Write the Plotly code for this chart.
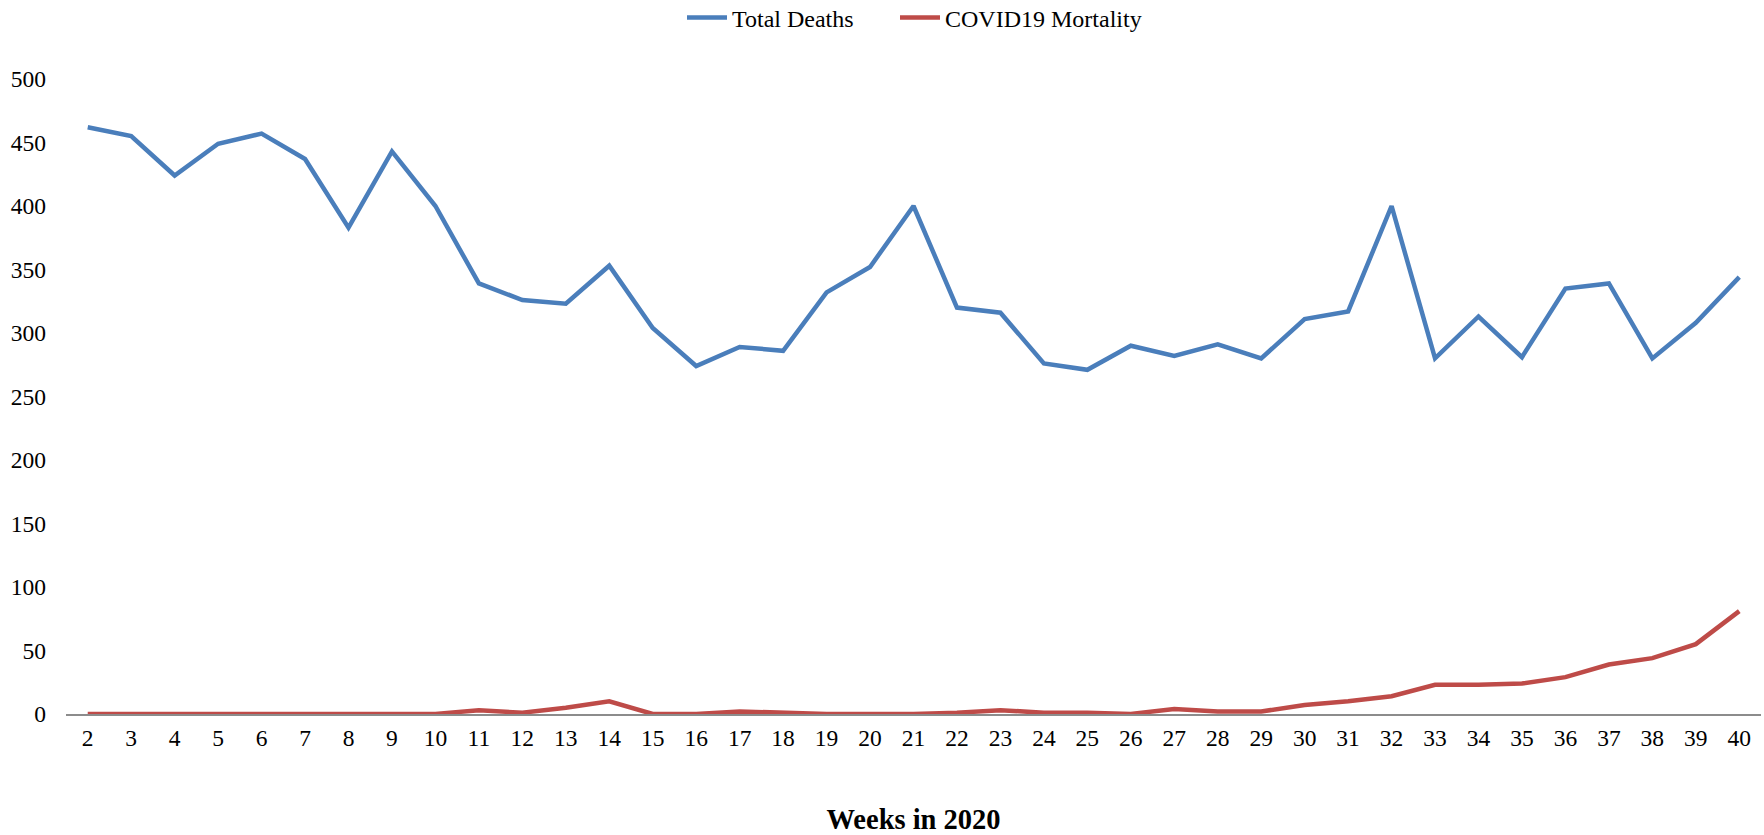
import plotly.graph_objects as go

weeks = [str(w) for w in range(2, 41)]
total_deaths = [462, 455, 424, 449, 457, 437, 383, 443, 400, 339, 326, 323, 353, 304, 274, 289, 286, 332, 352, 400,
                320, 316, 276, 271, 290, 282, 291, 280, 311, 317, 400, 280, 313, 281, 335, 339, 280, 308, 344]
covid_mortality = [0, 0, 0, 0, 0, 0, 0, 0, 0, 3, 1, 5, 10, 0, 0, 2, 1, 0, 0, 0,
                   1, 3, 1, 1, 0, 4, 2, 2, 7, 10, 14, 23, 23, 24, 29, 39, 44, 55, 81]
y_ticks = [0, 50, 100, 150, 200, 250, 300, 350, 400, 450, 500]

FONT = "Liberation Serif"
W, H = 1764, 835

fig = go.Figure()
fig.add_trace(go.Scatter(x=weeks, y=total_deaths, mode="lines", name="Total Deaths",
                         line=dict(color="#4A7EBB", width=4.5), legend="legend"))
fig.add_trace(go.Scatter(x=weeks, y=covid_mortality, mode="lines", name="COVID19 Mortality",
                         line=dict(color="#BE4B48", width=4.5), legend="legend2"))

leg_common = dict(orientation="h", yanchor="middle", yref="container", y=1 - 18 / H,
                  xanchor="left", xref="container", bgcolor="rgba(0,0,0,0)",
                  font=dict(family=FONT, size=24, color="black"), itemwidth=40)

fig.update_layout(
    width=W, height=H,
    margin=dict(l=66, r=3, t=79, b=121, autoexpand=False),
    paper_bgcolor="white", plot_bgcolor="white",
    font=dict(family=FONT, size=24, color="black"),
    showlegend=True,
    legend=dict(x=682 / W, **leg_common),
    legend2=dict(x=895 / W, **leg_common),
    xaxis=dict(type="category", range=[-0.5, len(weeks) - 0.5], showgrid=False, showline=True,
               linecolor="#8C8C8C", linewidth=2,
               ticks="", ticklabelstandoff=2, tickfont=dict(family=FONT, size=23.5),
               title=dict(text="<b>Weeks in 2020</b>", font=dict(family=FONT, size=28.5), standoff=60),
               zeroline=False, automargin=False),
    yaxis=dict(range=[0, 500], tickvals=y_ticks, showgrid=False, showline=False, zeroline=False,
               ticks="", ticklabelstandoff=19, tickfont=dict(family=FONT, size=23.5), automargin=False),
)

fig.write_html("out.html", config={"displayModeBar": False},
               post_script="document.body.style.margin='0';document.body.style.overflow='hidden';")
